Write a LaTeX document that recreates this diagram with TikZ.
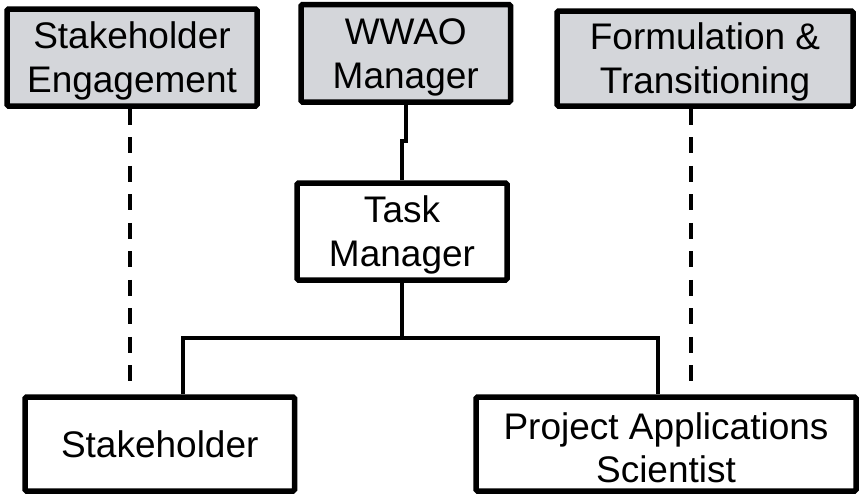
\documentclass[tikz,border=0pt]{standalone}
\usepackage{fontspec}
\setmainfont{Liberation Sans}
\definecolor{boxgray}{RGB}{212,214,218}
\newcommand{\toplinestrut}{\rule{0pt}{34pt}}
\begin{document}
\begin{tikzpicture}[x=1pt,y=-1pt,
  orgbox/.style={draw=black, line width=5.5pt, rounded corners=1.5pt, inner sep=0pt,
    align=center, font=\fontsize{37}{43.5}\selectfont, fill=white},
  topbox/.style={orgbox, fill=boxgray},
  conn/.style={line width=4pt},
  dconn/.style={line width=4pt, dash pattern=on 16pt off 12.5pt}]
\useasboundingbox (0,0) rectangle (859,496);
\node[topbox, minimum width=250pt, minimum height=97pt] (se) at (132,57.5) {\toplinestrut Stakeholder\\Engagement};
\node[topbox, minimum width=209.5pt, minimum height=97.5pt] (wwao) at (405.75,53.25) {\toplinestrut WWAO\\Manager};
\node[topbox, minimum width=296pt, minimum height=95pt] (ft) at (705,58.5) {\toplinestrut Formulation \&\\Transitioning};
\node[orgbox, minimum width=210pt, minimum height=97pt] (task) at (402,231.5) {\toplinestrut Task\\Manager};
\node[orgbox, minimum width=269.5pt, minimum height=94pt] (stake) at (159.75,444) {Stakeholder};
\node[orgbox, minimum width=380pt, minimum height=94pt] (pas) at (666,444) {\toplinestrut Project Applications\\Scientist};
\coordinate (jog) at (405.75,141);
\coordinate (bl) at (183,338);
\coordinate (br) at (658,338);
\coordinate (dl) at (130,385);
\coordinate (dr) at (691,385);
\draw[conn] (wwao.south) -- (jog) -| (task.north);
\draw[conn] (task.south) -- (task.south |- bl);
\draw[conn] (stake.north -| bl) -- (bl) -- (br) -- (pas.north -| br);
\draw[dconn] (se.south -| dl) -- (dl);
\draw[dconn] (ft.south -| dr) -- (dr);
\end{tikzpicture}
\end{document}
